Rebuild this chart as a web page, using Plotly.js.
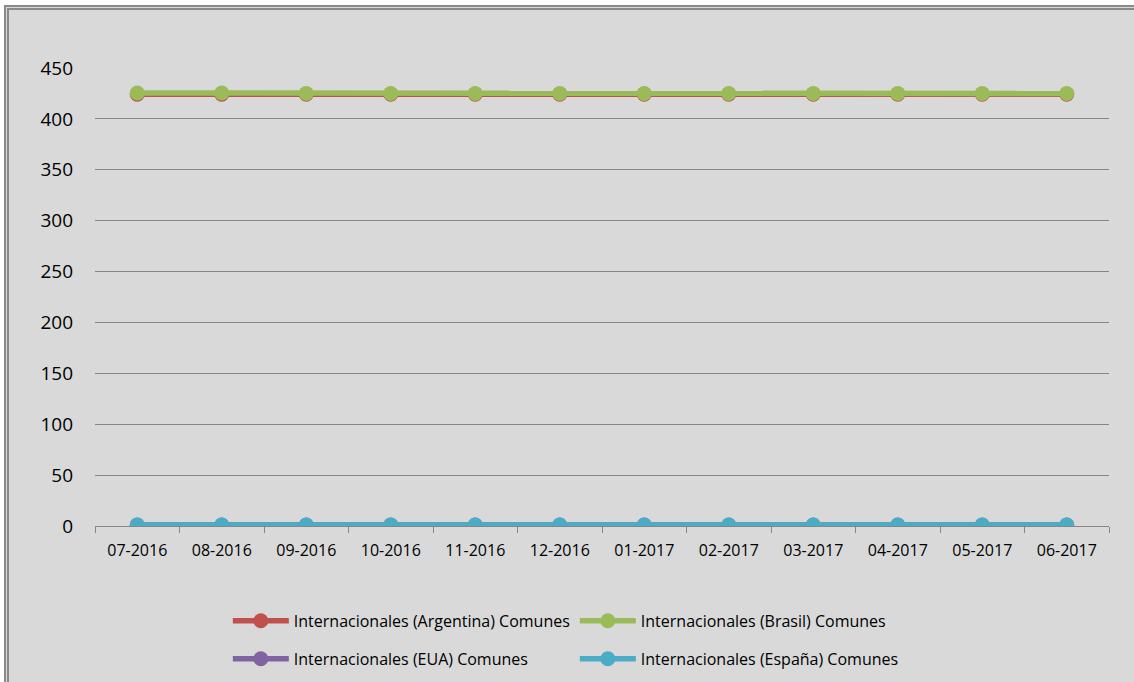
<!DOCTYPE html>
<html>
<head>
<meta charset="utf-8">
<script src="https://cdn.plot.ly/plotly-3.0.1.min.js"></script>
<style>
  html, body { margin: 0; padding: 0; background: #ffffff; }
  #wrap { position: relative; width: 1134px; height: 682px; overflow: hidden; }
  #frame { position: absolute; left: 4px; top: 5px; width: 1140px; height: 690px;
           background: #D9D9D9; border-left: 5px double #8a8a8a; border-top: 5px double #8a8a8a; box-sizing: border-box; }
  #chart { position: absolute; left: 0; top: 0; width: 1134px; height: 682px; }
</style>
</head>
<body>
<div id="wrap">
  <div id="frame"></div>
  <div id="chart"></div>
</div>
<script>
const months = ["07-2016","08-2016","09-2016","10-2016","11-2016","12-2016","01-2017","02-2017","03-2017","04-2017","05-2017","06-2017"];
const argentina = [424.3,424.3,424.3,424.3,424.3,424.3,424.3,424.3,424.3,424.3,424.3,424.3];
const brasil    = [425.5,425.5,425.0,425.0,425.0,425.0,425.0,425.0,425.0,425.0,425.0,425.0];
const eua       = [0.9,0.9,0.9,0.9,0.9,0.9,0.9,0.9,0.9,0.9,0.9,0.9];
const espana    = [1.0,1.0,1.0,1.0,1.0,1.0,1.0,1.0,1.0,1.0,1.0,1.0];
const names = ["Internacionales (Argentina) Comunes","Internacionales (Brasil) Comunes","Internacionales (EUA) Comunes","Internacionales (España) Comunes"];
const colors = ["#C0504D","#9BBB59","#8064A2","#4BACC6"];
const series = [argentina, brasil, eua, espana];
const legends = ["legend","legend","legend2","legend2"];

const traces = series.map((vals, i) => ({
  type: "scatter", mode: "lines+markers",
  x: months, y: vals, name: names[i],
  line: {color: colors[i], width: 5.5},
  marker: {color: colors[i], size: 15},
  legend: legends[i]
}));

const legendCommon = {
  orientation: "h", xanchor: "left", yanchor: "middle",
  bgcolor: "rgba(0,0,0,0)", font: {family: "Open Sans", size: 16, color: "#000"},
  entrywidth: 276, entrywidthmode: "pixels", itemwidth: 56
};

const layout = {
  width: 1134, height: 682,
  paper_bgcolor: "rgba(0,0,0,0)", plot_bgcolor: "rgba(0,0,0,0)",
  margin: {l: 95, r: 25, t: 68, b: 156, autoexpand: false},
  showlegend: true,
  xaxis: {
    type: "category", range: [-0.5, 11.5],
    showgrid: false, zeroline: false,
    showline: true, linecolor: "#868686", linewidth: 1,
    ticks: "outside", tickson: "boundaries", ticklen: 6, tickcolor: "#868686",
    ticklabelstandoff: 10,
    tickfont: {family: "Open Sans", size: 16, color: "#000"}
  },
  yaxis: {
    range: [0, 450], dtick: 50, tick0: 0,
    showgrid: true, gridcolor: "#868686", gridwidth: 1,
    zeroline: false, showline: false, ticks: "",
    ticklabelstandoff: 21,
    tickfont: {family: "Open Sans", size: 19, color: "#000"}
  },
  legend: Object.assign({x: 0.131, y: -0.207}, legendCommon),
  legend2: Object.assign({x: 0.131, y: -0.29}, legendCommon)
};

Plotly.newPlot("chart", traces, layout, {displayModeBar: false, staticPlot: true});
</script>
</body>
</html>
